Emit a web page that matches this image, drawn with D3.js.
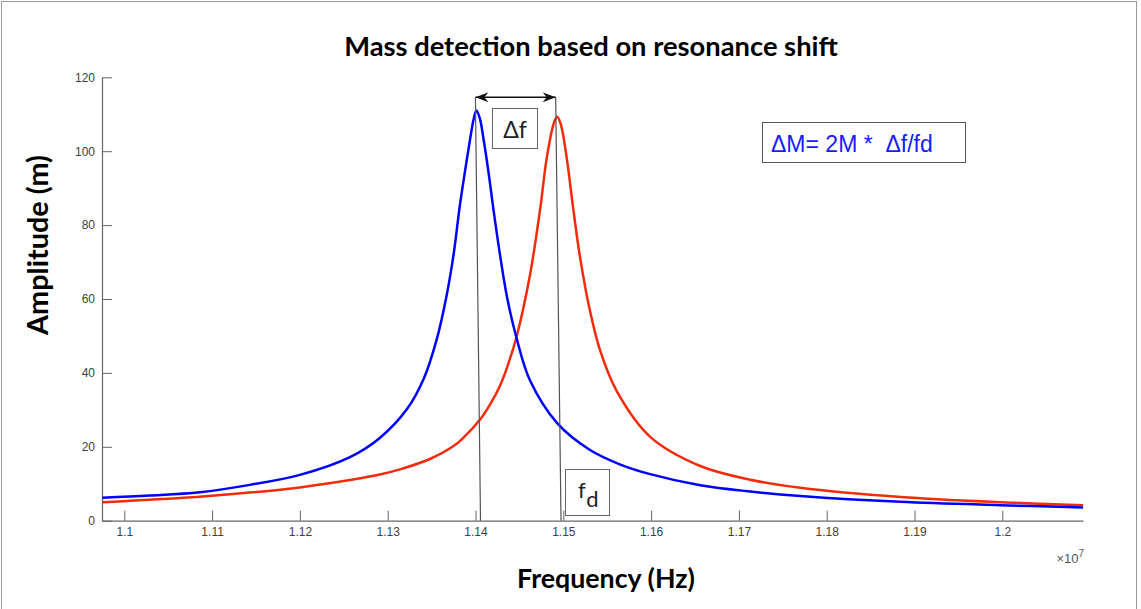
<!DOCTYPE html>
<html>
<head>
<meta charset="utf-8">
<script src="https://cdn.jsdelivr.net/npm/d3@7"></script>
<style>
  body { margin: 0; background: #fff; }
  svg { display: block; }
  .tick text { font-family: "Liberation Sans", Arial, sans-serif; font-size: 12px; fill: #404040; }
  .tick line, .domain { stroke: #666; }
</style>
</head>
<body>
<script>
'use strict';

// frequency in units of 1e7 Hz, amplitude in m
let blueFreq = [1.0975, 1.1029, 1.1086, 1.1143, 1.1200, 1.1257, 1.1291, 1.1322, 1.1341, 1.1356,
  1.1367, 1.1375, 1.1382, 1.1388, 1.1394, 1.1398, 1.1401, 1.1405, 1.1409, 1.1415, 1.1420,
  1.1428, 1.1436, 1.1447, 1.1462, 1.1493, 1.1530, 1.1565, 1.1599, 1.1656, 1.1713, 1.1770,
  1.1884, 1.1997, 1.2092];
let blueAmp = [6.2, 6.8, 7.7, 9.7, 12.4, 17.2, 22.4, 30.2, 38.4, 49.2,
  60.8, 72.0, 85.0, 94.5, 103.5, 108.8, 111.0, 108.8, 103.5, 94.0, 85.0,
  71.8, 60.4, 49.2, 38.0, 26.4, 19.2, 15.2, 12.6, 9.6, 7.9, 6.7,
  5.1, 4.2, 3.6];

let redFreq = [1.0975, 1.1086, 1.1143, 1.1200, 1.1257, 1.1291, 1.1314, 1.1348, 1.1375, 1.1386,
  1.1405, 1.1417, 1.1428, 1.1436, 1.1447, 1.1462, 1.1474, 1.1481, 1.1489, 1.1493, 1.1497,
  1.1504, 1.1511, 1.1519, 1.1530, 1.1542, 1.1561, 1.1599, 1.1656, 1.1713, 1.1770, 1.1884,
  1.1997, 1.2092];
let redAmp = [5.0, 6.5, 7.6, 9.0, 11.0, 12.5, 13.9, 16.7, 20.2, 22.4,
  27.3, 31.6, 36.6, 41.5, 50.0, 66.4, 85.0, 98.0, 107.4, 109.3, 107.4,
  98.0, 85.0, 71.4, 57.2, 46.0, 35.0, 22.7, 14.8, 11.1, 8.9, 6.4,
  5.0, 4.2];

let xTicks = [1.1, 1.11, 1.12, 1.13, 1.14, 1.15, 1.16, 1.17, 1.18, 1.19, 1.2];
let xTickLabels = ['1.1', '1.11', '1.12', '1.13', '1.14', '1.15', '1.16', '1.17', '1.18', '1.19', '1.2'];
let yTicks = [0, 20, 40, 60, 80, 100, 120];

// annotation lines: [freq top, amp top, freq bottom, amp bottom]
let markerLines = [[1.13999, 114.6, 1.14057, 0], [1.14913, 114.6, 1.14974, 0]];

let width = 1141;
let height = 609;

let svg = d3.select('body').append('svg')
  .attr('width', width)
  .attr('height', height);

svg.append('rect')
  .attr('x', 1.5).attr('y', 1.5)
  .attr('width', 1135).attr('height', 620)
  .attr('fill', 'none')
  .attr('stroke', '#9a9a9a');

let x = d3.scaleLinear().domain([1.09746, 1.20919]).range([102, 1083]);
let y = d3.scaleLinear().domain([0, 120]).range([520.7, 77.3]);

svg.append('g')
  .attr('transform', 'translate(0,' + y(0) + ')')
  .call(d3.axisBottom(x)
    .tickValues(xTicks)
    .tickFormat(function(d, i) { return xTickLabels[i]; })
    .tickSizeInner(-10)
    .tickSizeOuter(0)
    .tickPadding(7));

svg.append('g')
  .attr('transform', 'translate(' + x.range()[0] + ',0)')
  .call(d3.axisLeft(y)
    .tickValues(yTicks)
    .tickSizeInner(-10)
    .tickSizeOuter(0)
    .tickPadding(7));

svg.selectAll('.domain').attr('stroke-width', 1.2);

let line = d3.line()
  .x(function(d) { return x(d[0]); })
  .y(function(d) { return y(d[1]); })
  .curve(d3.curveCatmullRom.alpha(0.5));

let blue = blueFreq.map(function(f, i) { return [f, blueAmp[i]]; });
let red = redFreq.map(function(f, i) { return [f, redAmp[i]]; });

svg.append('path')
  .datum(red)
  .attr('d', line)
  .attr('fill', 'none')
  .attr('stroke', '#f22b0b')
  .attr('stroke-width', 2.5);

svg.append('path')
  .datum(blue)
  .attr('d', line)
  .attr('fill', 'none')
  .attr('stroke', '#0000ff')
  .attr('stroke-width', 2.5);

// thin vertical markers
svg.append('g').selectAll('line')
  .data(markerLines)
  .enter().append('line')
    .attr('x1', function(d) { return x(d[0]); })
    .attr('y1', function(d) { return y(d[1]); })
    .attr('x2', function(d) { return x(d[2]); })
    .attr('y2', function(d) { return y(d[3]); })
    .attr('stroke', '#555')
    .attr('stroke-width', 1.2);

// double arrow between the peaks
let defs = svg.append('defs');
defs.append('marker')
  .attr('id', 'arr')
  .attr('viewBox', '0 0 13 10')
  .attr('refX', 13).attr('refY', 5)
  .attr('markerWidth', 13).attr('markerHeight', 10)
  .attr('markerUnits', 'userSpaceOnUse')
  .attr('orient', 'auto-start-reverse')
  .append('path')
    .attr('d', 'M0,0 L13,5 L0,10 L4,5 Z')
    .attr('fill', '#111');

svg.append('line')
  .attr('x1', x(markerLines[0][0])).attr('y1', y(markerLines[0][1]))
  .attr('x2', x(markerLines[1][0])).attr('y2', y(markerLines[1][1]))
  .attr('stroke', '#111')
  .attr('stroke-width', 1.3)
  .attr('marker-start', 'url(#arr)')
  .attr('marker-end', 'url(#arr)');

// annotation boxes
let boxes = svg.append('g');
boxes.append('rect')
  .attr('x', 492.5).attr('y', 108.5).attr('width', 45).attr('height', 40)
  .attr('fill', '#fff').attr('stroke', '#666');
boxes.append('text')
  .attr('x', 515).attr('y', 138)
  .attr('text-anchor', 'middle')
  .style('font-family', 'Lato, "Open Sans", sans-serif')
  .style('font-size', '23px')
  .attr('fill', '#222')
  .text('Δf');

boxes.append('rect')
  .attr('x', 565.5).attr('y', 469.5).attr('width', 44).attr('height', 46)
  .attr('fill', '#fff').attr('stroke', '#666');
let fd = boxes.append('text')
  .attr('x', 578).attr('y', 498)
  .style('font-family', 'Lato, "Open Sans", sans-serif')
  .style('font-size', '22px')
  .attr('fill', '#222');
fd.append('tspan').text('f');
fd.append('tspan').attr('dy', 9).attr('dx', 1).text('d');

boxes.append('rect')
  .attr('x', 762.5).attr('y', 122.5).attr('width', 203).attr('height', 40)
  .attr('fill', '#fff').attr('stroke', '#555');
boxes.append('text')
  .attr('x', 771).attr('y', 152)
  .style('font-family', '"Liberation Sans", Arial, sans-serif')
  .style('font-size', '23px')
  .style('white-space', 'pre')
  .attr('fill', '#1a1aff')
  .text('ΔM= 2M *  Δf/fd');

// exponent label
let ex = svg.append('text')
  .attr('x', 1084).attr('y', 563)
  .attr('text-anchor', 'end')
  .style('font-family', '"Liberation Sans", Arial, sans-serif')
  .style('font-size', '13px')
  .attr('fill', '#555');
ex.append('tspan').text('×10');
ex.append('tspan').attr('dy', -6).style('font-size', '10px').text('7');

// titles, sized to their width in the reference
let fitText = function(sel, w) {
  let len = sel.node().getComputedTextLength();
  let fs = parseFloat(sel.style('font-size'));
  sel.style('font-size', (fs * w / len) + 'px');
};

let boldFont = 'Lato, "Open Sans", sans-serif';

let title = svg.append('text')
  .attr('x', 591).attr('y', 56)
  .attr('text-anchor', 'middle')
  .style('font-family', boldFont).style('font-weight', 'bold')
  .style('font-size', '24px').attr('fill', '#000')
  .text('Mass detection based on resonance shift');
fitText(title, 494);

let xLabel = svg.append('text')
  .attr('x', 606).attr('y', 588)
  .attr('text-anchor', 'middle')
  .style('font-family', boldFont).style('font-weight', 'bold')
  .style('font-size', '24px').attr('fill', '#000')
  .text('Frequency (Hz)');
fitText(xLabel, 178);

let yLabel = svg.append('text')
  .attr('transform', 'translate(48,245) rotate(-90)')
  .attr('text-anchor', 'middle')
  .style('font-family', boldFont).style('font-weight', 'bold')
  .style('font-size', '24px').attr('fill', '#000')
  .text('Amplitude (m)');
fitText(yLabel, 180);
</script>
</body>
</html>
